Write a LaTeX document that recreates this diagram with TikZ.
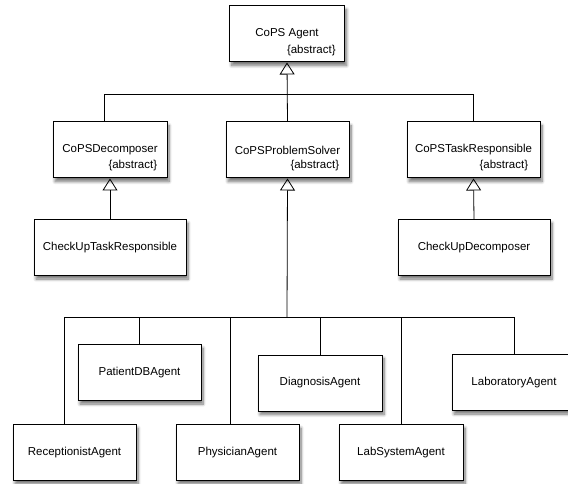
\documentclass[tikz,border=0pt]{standalone}
\usepackage{fontspec}
\setmainfont{Liberation Sans}
\usetikzlibrary{shapes, arrows.meta, positioning, shadows.blur}

\begin{document}
\begin{tikzpicture}[x=1pt, y=-1pt, >={Triangle[open, length=12pt, width=15pt]}, line width=0.8pt, font=\fontsize{11.5}{13}\selectfont]

\tikzstyle{class} = [draw, shape=rectangle, fill=white, minimum height=56pt, line width=1pt, blur shadow={shadow xshift=2pt, shadow yshift=-3.5pt, shadow opacity=55, shadow blur radius=3pt, shadow blur steps=8}]
\tikzstyle{tag} = [anchor=east, inner sep=0pt]

\useasboundingbox (0,0) rectangle (568,484);

%Creating Blocks
\node [class, minimum width=115pt] at (287,34) (cops) {CoPS Agent};
\node [tag] at ([xshift=-9pt, yshift=-17pt]cops.east) (copsabs) {\{abstract\}};

\node [class, minimum width=114pt] at (110,150) (decomp) {CoPSDecomposer};
\node [tag] at ([xshift=-10pt, yshift=-16pt]decomp.east) (decompabs) {\{abstract\}};
\node [class, minimum width=123pt] at (287.5,150) (solver) {CoPSProblemSolver};
\node [tag] at ([xshift=-10pt, yshift=-16pt]solver.east) (solverabs) {\{abstract\}};
\node [class, minimum width=133pt] at (473.5,150) (taskresp) {CoPSTaskResponsible};
\node [tag] at ([xshift=-12pt, yshift=-16pt]taskresp.east) (taskrespabs) {\{abstract\}};

\node [class, minimum width=152pt] at (110,247.5) (checktask) {CheckUpTaskResponsible};
\node [class, minimum width=152pt] at (474,247.5) (checkdecomp) {CheckUpDecomposer};

\node [class, minimum width=123pt] at (74.5,452.5) (recep) {ReceptionistAgent};
\node [class, minimum width=123pt] at (139.5,372.5) (patient) {PatientDBAgent};
\node [class, minimum width=123pt] at (237.5,452.5) (physician) {PhysicianAgent};
\node [class, minimum width=124pt] at (320,383) (diagnosis) {DiagnosisAgent};
\node [class, minimum width=124pt] at (401,452.5) (labsys) {LabSystemAgent};
\node [class, minimum width=124pt] at (514,382.5) (lab) {LaboratoryAgent};

%Connecting Blocks
\coordinate (topbus) at (287,94);
\coordinate (botbus) at (287,317);

\draw[->] (solver.north) -- (cops.south);
\draw ([xshift=-6pt]decomp.north) |- (topbus);
\draw (taskresp.north) |- (topbus);

\draw[->] (checktask.north) -- (decomp.south);
\draw[->] (checkdecomp.north) -- (taskresp.south);

\draw[->] (botbus) -- (solver.south);
\draw ([xshift=-10.5pt]recep.north) |- (botbus);
\draw (patient.north) |- (botbus);
\draw ([xshift=-7.5pt]physician.north) |- (botbus);
\draw (diagnosis.north) |- (botbus);
\draw (labsys.north) |- (botbus);
\draw (lab.north) |- (botbus);

\end{tikzpicture}
\end{document}
